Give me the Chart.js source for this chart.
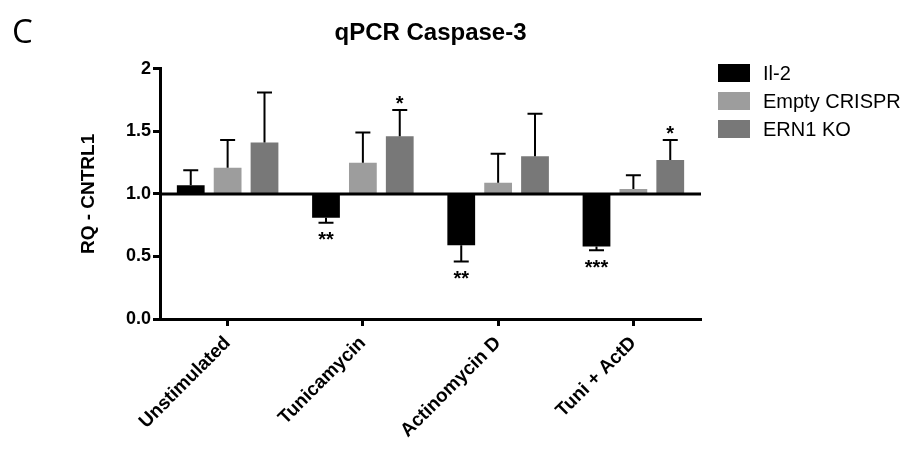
<!DOCTYPE html>
<html>
<head>
<meta charset="utf-8">
<script src="https://cdn.jsdelivr.net/npm/chart.js@4.4.0/dist/chart.umd.min.js"></script>
<style>
  html, body { margin: 0; padding: 0; background: #fff; }
  canvas { display: block; }
</style>
</head>
<body>
<canvas id="caspaseChart" width="908" height="450"></canvas>
<script>
// values (RQ relative to CNTRL1, bars start at 1.0)
const categories = ['Unstimulated', 'Tunicamycin', 'Actinomycin D', 'Tuni + ActD'];
const seriesNames = ['Il-2', 'Empty CRISPR', 'ERN1 KO'];
const il2Values = [1.07, 0.81, 0.59, 0.58];
const il2Errors = [0.12, 0.04, 0.13, 0.03];
const emptyValues = [1.21, 1.25, 1.09, 1.04];
const emptyErrors = [0.22, 0.24, 0.23, 0.11];
const ern1Values = [1.41, 1.46, 1.30, 1.27];
const ern1Errors = [0.40, 0.21, 0.34, 0.16];
const yTickLabels = ['0.0', '0.5', '1.0', '1.5', '2'];
const baseline = 1.0;
// significance marks: [category index, series index, text]
const starMarks = [[1, 0, '**'], [1, 2, '*'], [2, 0, '**'], [3, 0, '***'], [3, 2, '*']];
const seriesColors = ['#000000', '#9d9d9d', '#787878'];

const FONT = "'Liberation Sans', Arial, Helvetica, sans-serif";

function makeDataset(idx, values, errors) {
  return {
    label: seriesNames[idx],
    data: values.map(v => [baseline, v]),
    values: values,
    errors: errors,
    backgroundColor: seriesColors[idx],
    borderWidth: 0,
    categoryPercentage: 0.818,
    barPercentage: 0.753
  };
}

// error bars, baseline, stars, legend and panel letter
const extrasPlugin = {
  id: 'extras',
  afterDatasetsDraw(chart) {
    const ctx = chart.ctx;
    const y = chart.scales.y;
    const area = chart.chartArea;
    ctx.save();
    ctx.strokeStyle = '#000';

    // horizontal line at 1.0
    const by = y.getPixelForValue(baseline);
    ctx.lineWidth = 3;
    ctx.beginPath();
    ctx.moveTo(area.left, by);
    ctx.lineTo(area.right, by);
    ctx.stroke();

    // error bars go away from the baseline
    ctx.lineWidth = 2;
    const ends = [];
    chart.data.datasets.forEach((ds, i) => {
      const meta = chart.getDatasetMeta(i);
      ends.push([]);
      meta.data.forEach((bar, j) => {
        const v = ds.values[j];
        const dir = v >= baseline ? 1 : -1;
        const y0 = y.getPixelForValue(v);
        const y1 = y.getPixelForValue(v + dir * ds.errors[j]);
        ctx.beginPath();
        ctx.moveTo(bar.x, y0);
        ctx.lineTo(bar.x, y1);
        ctx.moveTo(bar.x - 7.5, y1);
        ctx.lineTo(bar.x + 7.5, y1);
        ctx.stroke();
        ends[i].push({ x: bar.x, y: y1, dir: dir });
      });
    });

    // stars
    ctx.fillStyle = '#000';
    ctx.font = 'bold 20px ' + FONT;
    ctx.textAlign = 'center';
    ctx.textBaseline = 'alphabetic';
    starMarks.forEach(([c, s, txt]) => {
      const e = ends[s][c];
      const cy = e.y - e.dir * 12;
      ctx.fillText(txt, e.x, cy + 0.575 * 20);
    });
    ctx.restore();
  },
  afterDraw(chart) {
    const ctx = chart.ctx;
    ctx.save();
    // legend
    ctx.font = '20px ' + FONT;
    ctx.textAlign = 'left';
    ctx.textBaseline = 'middle';
    seriesNames.forEach((name, i) => {
      const cy = 73 + i * 28;
      ctx.fillStyle = seriesColors[i];
      ctx.fillRect(718, cy - 9, 32, 18);
      ctx.fillStyle = '#000';
      ctx.fillText(name, 763, cy + 1);
    });
    // panel letter
    ctx.font = "33px 'Open Sans', " + FONT;
    ctx.textBaseline = 'alphabetic';
    ctx.fillText('C', 12, 43);
    ctx.restore();
  }
};

const ctx_caspase = document.getElementById('caspaseChart').getContext('2d');

const caspaseChart = new Chart(ctx_caspase, {
  type: 'bar',
  data: {
    labels: categories,
    datasets: [
      makeDataset(0, il2Values, il2Errors),
      makeDataset(1, emptyValues, emptyErrors),
      makeDataset(2, ern1Values, ern1Errors)
    ]
  },
  options: {
    responsive: false,
    maintainAspectRatio: false,
    animation: false,
    layout: { padding: { left: 0, right: 207, top: 0, bottom: 0 } },
    scales: {
      x: {
        offset: true,
        grid: {
          offset: false,
          drawOnChartArea: false,
          drawTicks: true,
          tickLength: 7,
          tickWidth: 3,
          tickColor: '#000'
        },
        border: { display: true, color: '#000', width: 3 },
        ticks: {
          color: '#000',
          font: { family: FONT, size: 19, weight: 'bold' },
          minRotation: 45,
          maxRotation: 45,
          autoSkip: false,
          padding: 6
        },
        afterFit: scale => { scale.height = 131; }
      },
      y: {
        min: 0,
        max: 2,
        grid: {
          drawOnChartArea: false,
          drawTicks: true,
          tickLength: 7,
          tickWidth: 3,
          tickColor: '#000'
        },
        border: { display: true, color: '#000', width: 3 },
        ticks: {
          stepSize: 0.5,
          color: '#000',
          padding: 2,
          font: { family: FONT, size: 18, weight: 'bold' },
          callback: (value, index) => yTickLabels[index]
        },
        title: {
          display: true,
          text: 'RQ - CNTRL1',
          color: '#000',
          font: { family: FONT, size: 19, weight: 'bold' },
          padding: { top: 77, bottom: 0 }
        },
        afterFit: scale => { scale.width = 160; }
      }
    },
    plugins: {
      legend: { display: false },
      tooltip: { enabled: false },
      title: {
        display: true,
        fullSize: false,
        text: 'qPCR Caspase-3',
        color: '#000',
        font: { family: FONT, size: 24, weight: 'bold' },
        padding: { top: 19, bottom: 21 }
      }
    }
  },
  plugins: [extrasPlugin]
});
</script>
</body>
</html>
